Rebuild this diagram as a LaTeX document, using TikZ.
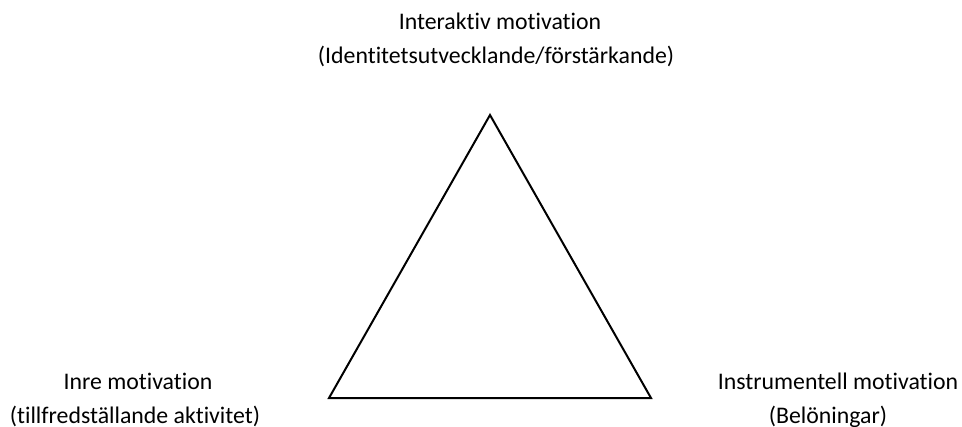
\documentclass[tikz,border=0pt]{standalone}
\usepackage{fontspec}
\setmainfont{Carlito}[Ligatures=NoCommon]
\usepackage{tikz}
\usetikzlibrary{positioning}

\begin{document}
\begin{tikzpicture}[
  x=0.5pt, y=-0.5pt,
  lbl/.style={anchor=base, inner sep=0pt, font=\fontsize{11.9}{14}\selectfont},
  edge/.style={draw=black, line width=1pt, line join=miter}]

  \useasboundingbox (0,0) rectangle (962,427);

  % corners of the triangle
  \coordinate (top) at (490,115);
  \coordinate (lft) at (329,398);
  \coordinate (rgt) at (651,398);
  \draw[edge] (top) -- (lft) -- (rgt) -- cycle;

  % top label
  \node[lbl] (inter) at (500,30) {Interaktiv motivation};
  \node[lbl] (intersub) at (496,64) {(Identitetsutvecklande/förstärkande)};

  % left label
  \node[lbl] (inre) at (138,389) {Inre motivation};
  \node[lbl] (inresub) at (135,423) {(tillfredställande aktivitet)};

  % right label
  \node[lbl] (instr) at (838,389) {Instrumentell motivation};
  \node[lbl] (instrsub) at (828,423) {(Belöningar)};
\end{tikzpicture}
\end{document}
